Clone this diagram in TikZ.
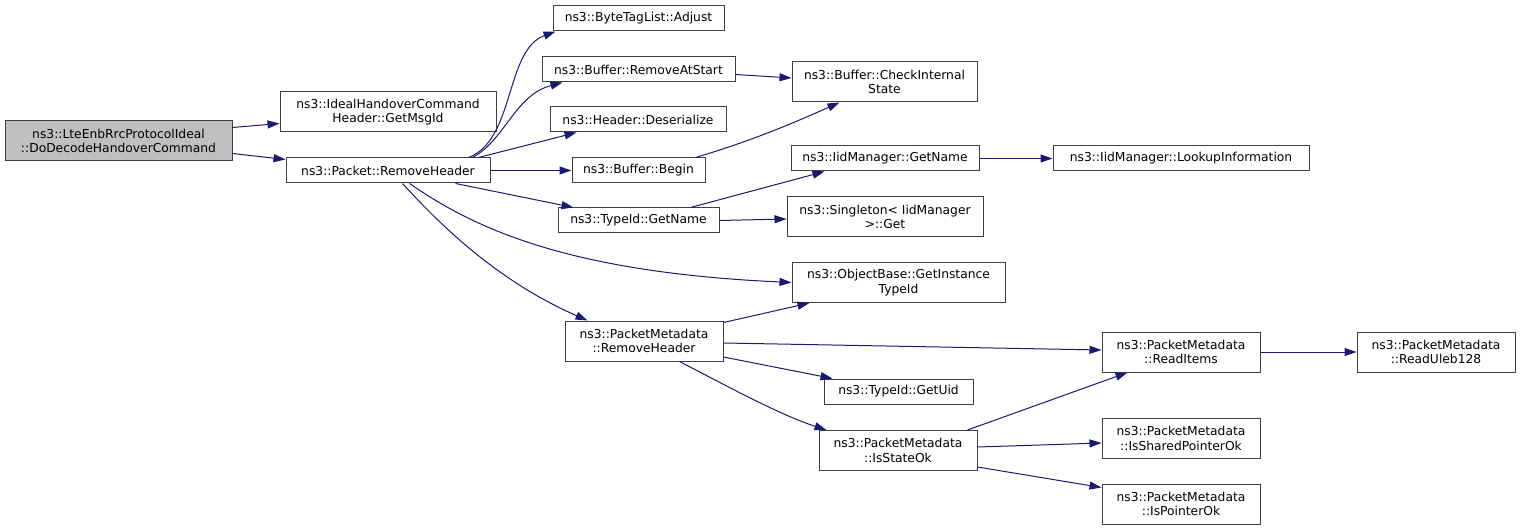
\documentclass[tikz,border=0pt]{standalone}
\usepackage{fontspec}
\setmainfont{DejaVu Sans}
\usetikzlibrary{arrows.meta,calc}
\definecolor{edgec}{HTML}{191970}
\definecolor{boxc}{HTML}{404040}
\definecolor{grayfill}{HTML}{BFBFBF}
\begin{document}
\begin{tikzpicture}[x=1pt,y=-1pt,
  fn/.style={draw=boxc,line width=1pt,fill=white,inner sep=0pt,align=center,
    font=\fontsize{12.3}{14.3}\selectfont},
  edge/.style={draw=edgec,line width=1pt,-{Triangle[length=12pt,width=8pt]}}]
\useasboundingbox (0,0) rectangle (1520,529);
% nodes
\node[fn,fill=grayfill,minimum width=227pt,minimum height=40pt] (lte) at (118.5,141) {ns3::LteEnbRrcProtocolIdeal\\::DoDecodeHandoverCommand};
\node[fn,minimum width=216pt,minimum height=40pt] (ideal) at (388,112) {ns3::IdealHandoverCommand\\Header::GetMsgId};
\node[fn,minimum width=204pt,minimum height=25pt] (prh) at (388,170.5) {ns3::Packet::RemoveHeader};
\node[fn,minimum width=171pt,minimum height=25pt] (adj) at (638.5,18.5) {ns3::ByteTagList::Adjust};
\node[fn,minimum width=193pt,minimum height=25pt] (ras) at (638.5,69.5) {ns3::Buffer::RemoveAtStart};
\node[fn,minimum width=176pt,minimum height=25pt] (des) at (638,119.5) {ns3::Header::Deserialize};
\node[fn,minimum width=133pt,minimum height=25pt] (beg) at (638.5,170.5) {ns3::Buffer::Begin};
\node[fn,minimum width=161pt,minimum height=25pt] (tgn) at (638.5,220.5) {ns3::TypeId::GetName};
\node[fn,minimum width=185pt,minimum height=40pt] (cis) at (884.5,82) {ns3::Buffer::CheckInternal\\State};
\node[fn,minimum width=188pt,minimum height=25pt] (ign) at (885,158.5) {ns3::IidManager::GetName};
\node[fn,minimum width=196pt,minimum height=40pt] (sgt) at (885,217) {ns3::Singleton< IidManager\\>::Get};
\node[fn,minimum width=213pt,minimum height=40pt] (obi) at (898.5,282.5) {ns3::ObjectBase::GetInstance\\TypeId};
\node[fn,minimum width=158pt,minimum height=40pt] (pmr) at (644,341) {ns3::PacketMetadata\\::RemoveHeader};
\node[fn,minimum width=149pt,minimum height=25pt] (uid) at (898.5,391.5) {ns3::TypeId::GetUid};
\node[fn,minimum width=158pt,minimum height=40pt] (iso) at (898,450.5) {ns3::PacketMetadata\\::IsStateOk};
\node[fn,minimum width=256pt,minimum height=25pt] (lkp) at (1181,158.5) {ns3::IidManager::LookupInformation};
\node[fn,minimum width=158pt,minimum height=40pt] (rit) at (1181,352) {ns3::PacketMetadata\\::ReadItems};
\node[fn,minimum width=158pt,minimum height=40pt] (ule) at (1436,352) {ns3::PacketMetadata\\::ReadUleb128};
\node[fn,minimum width=158pt,minimum height=40pt] (spo) at (1181,438.5) {ns3::PacketMetadata\\::IsSharedPointerOk};
\node[fn,minimum width=158pt,minimum height=40pt] (pok) at (1181,504) {ns3::PacketMetadata\\::IsPointerOk};
% edges
\draw[edge] ($(lte.north east)+(0,7)$) -- ($(ideal.north west)+(0,32)$);
\draw[edge] ($(lte.north east)+(0,33)$) -- ($(prh.north west)+(0,2)$);
\draw[edge] ($(prh.north east)+(-22,0)$) .. controls (515,140) and (505,50) .. ($(adj.south west)+(3,0)$);
\draw[edge] ($(prh.north east)+(-18,0)$) .. controls (505,140) and (515,95) .. ($(ras.south west)+(21,0)$);
\draw[edge] ($(prh.north east)+(-12,0)$) -- ($(des.south west)+(27,0)$);
\draw[edge] (prh.east) -- (beg.west);
\draw[edge] ($(prh.south east)+(-35,0)$) -- ($(tgn.north west)+(16,0)$);
\draw[edge] ($(prh.south west)+(124,0)$) .. controls (470,225) and (560,272) .. (obi.west);
\draw[edge] ($(prh.south west)+(117,0)$) .. controls (445,230) and (500,282) .. ($(pmr.north west)+(23,0)$);
\draw[edge] ($(ras.east)+(0,5)$) -- ($(cis.west)+(0,-4)$);
\draw[edge] ($(beg.north east)+(-10,0)$) .. controls (755,140) and (800,120) .. ($(cis.south west)+(48,0)$);
\draw[edge] ($(tgn.north east)+(-29,0)$) -- ($(ign.south west)+(34,0)$);
\draw[edge] (tgn.east) -- ($(sgt.west)+(0,2)$);
\draw[edge] (ign.east) -- (lkp.west);
\draw[edge] ($(pmr.north east)+(0,2)$) -- ($(obi.south west)+(18,0)$);
\draw[edge] ($(pmr.east)+(0,2)$) -- ($(rit.west)+(0,-2)$);
\draw[edge] ($(pmr.east)+(0,16)$) -- ($(uid.north west)+(9,0)$);
\draw[edge] ($(pmr.south west)+(115,0)$) .. controls (725,385) and (780,415) .. ($(iso.north west)+(8,0)$);
\draw[edge] ($(iso.north east)+(-10,0)$) -- ($(rit.south west)+(26,0)$);
\draw[edge] ($(iso.east)+(0,-3.5)$) -- ($(spo.west)+(0,4.5)$);
\draw[edge] ($(iso.south east)+(0,-4)$) -- ($(pok.north west)+(0,4)$);
\draw[edge] (rit.east) -- (ule.west);
\end{tikzpicture}
\end{document}
